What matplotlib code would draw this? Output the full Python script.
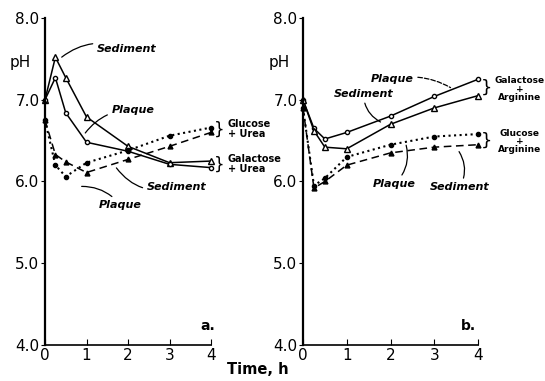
import matplotlib
matplotlib.use("Agg")
import matplotlib.pyplot as plt

plt.rcParams['font.family'] = ['DejaVu Sans']

# ---- data ----
time_a = [0, 0.25, 0.5, 1, 2, 3, 4]
a_gal_sediment = [7.0, 7.52, 7.27, 6.79, 6.43, 6.23, 6.25]
a_gal_plaque = [7.0, 7.27, 6.84, 6.48, 6.37, 6.21, 6.17]
a_glu_plaque = [6.75, 6.20, 6.06, 6.23, 6.38, 6.56, 6.66]
a_glu_sediment = [6.75, 6.33, 6.24, 6.11, 6.27, 6.43, 6.60]

time_b = [0, 0.25, 0.5, 1, 2, 3, 4]
b_gal_plaque = [7.0, 6.65, 6.52, 6.60, 6.80, 7.04, 7.25]
b_gal_sediment = [7.0, 6.62, 6.42, 6.40, 6.70, 6.90, 7.05]
b_glu_plaque = [6.9, 5.95, 6.04, 6.30, 6.45, 6.55, 6.58]
b_glu_sediment = [6.9, 5.92, 6.00, 6.20, 6.35, 6.42, 6.45]

yticks = [4.0, 5.0, 6.0, 7.0, 8.0]
xticks = [0, 1, 2, 3, 4]

fig = plt.figure(figsize=(5.45, 3.81), dpi=100)
axa = fig.add_axes([45/545, 36/381, 166/545, 327/381])
axb = fig.add_axes([303/545, 36/381, 175/545, 327/381])

lw = 1.1
ms = 3.5
tk = dict(fontsize=8, fontweight='bold', style='italic')
bk = dict(fontsize=7, fontweight='bold', clip_on=False)

def style(ax):
    ax.set_xlim(0, 4)
    ax.set_ylim(4, 8)
    ax.spines['top'].set_visible(False)
    ax.spines['right'].set_visible(False)
    ax.spines['left'].set_linewidth(1.6)
    ax.spines['bottom'].set_linewidth(1.2)
    ax.set_yticks(yticks)
    ax.set_yticklabels([f"{v:.1f}" for v in yticks], fontsize=11)
    ax.set_xticks(xticks)
    ax.set_xticklabels([str(v) for v in xticks], fontsize=11)
    ax.tick_params(axis='y', direction='out', length=3, pad=1)
    ax.tick_params(axis='x', direction='in', length=4, pad=2)
    for spine in ax.spines.values():
        spine.set_clip_on(False)

# ---- panel a ----
ax = axa
style(ax)
ax.plot(time_a, a_gal_sediment, '-', color='black', lw=lw, marker='^', mfc='white', ms=ms+0.5, clip_on=False)
ax.plot(time_a, a_gal_plaque, '-', color='black', lw=lw, marker='o', mfc='white', ms=ms-0.5, clip_on=False)
ax.plot(time_a, a_glu_plaque, ':', color='black', lw=1.5, marker='o', mfc='black', ms=ms-0.5, clip_on=False)
ax.plot(time_a, a_glu_sediment, '--', color='black', lw=lw, marker='^', mfc='black', ms=ms, dashes=(5, 3), clip_on=False)

arr = dict(arrowstyle='-', color='black', lw=0.9)
ax.annotate('Sediment', xy=(0.35, 7.5), xytext=(1.25, 7.62), ha='left', va='center', **tk,
            arrowprops=dict(**arr, connectionstyle='arc3,rad=0.3', shrinkA=1, shrinkB=2))
ax.annotate('Plaque', xy=(0.95, 6.58), xytext=(1.6, 6.88), ha='left', va='center', **tk,
            arrowprops=dict(**arr, connectionstyle='arc3,rad=0.25', shrinkA=1, shrinkB=1))
ax.annotate('Sediment', xy=(1.7, 6.18), xytext=(2.45, 5.93), ha='left', va='center', **tk,
            arrowprops=dict(**arr, connectionstyle='arc3,rad=-0.35', shrinkA=1, shrinkB=1))
ax.annotate('Plaque', xy=(0.85, 5.94), xytext=(1.3, 5.71), ha='left', va='center', **tk,
            arrowprops=dict(**arr, connectionstyle='arc3,rad=0.25', shrinkA=1, shrinkB=1))
ax.text(4.08, 6.63, '}', fontsize=12, ha='left', va='center', clip_on=False)
ax.text(4.4, 6.64, 'Glucose\n+ Urea', ha='left', va='center', linespacing=1.0, **bk)
ax.text(4.08, 6.21, '}', fontsize=12, ha='left', va='center', clip_on=False)
ax.text(4.4, 6.21, 'Galactose\n+ Urea', ha='left', va='center', linespacing=1.0, **bk)
ax.text(3.75, 4.15, 'a.', fontsize=10, fontweight='bold', ha='left', va='bottom')
ax.text(-0.6, 7.45, 'pH', fontsize=11, ha='center', va='center', clip_on=False)

# ---- panel b ----
ax = axb
style(ax)
ax.plot(time_b, b_gal_plaque, '-', color='black', lw=lw, marker='o', mfc='white', ms=ms-0.5, clip_on=False)
ax.plot(time_b, b_gal_sediment, '-', color='black', lw=lw, marker='^', mfc='white', ms=ms+0.5, clip_on=False)
ax.plot(time_b, b_glu_plaque, ':', color='black', lw=1.5, marker='o', mfc='black', ms=ms-0.5, clip_on=False)
ax.plot(time_b, b_glu_sediment, '--', color='black', lw=lw, marker='^', mfc='black', ms=ms, dashes=(5, 3), clip_on=False)

ax.annotate('Plaque', xy=(3.4, 7.14), xytext=(1.55, 7.25), ha='left', va='center', **tk,
            arrowprops=dict(arrowstyle='-', color='black', lw=0.9, linestyle='--',
                            connectionstyle='arc3,rad=-0.2', shrinkA=1, shrinkB=1))
ax.annotate('Sediment', xy=(1.8, 6.72), xytext=(0.7, 7.07), ha='left', va='center', **tk,
            arrowprops=dict(**arr, connectionstyle='arc3,rad=0.3', shrinkA=1, shrinkB=1))
ax.annotate('Plaque', xy=(2.35, 6.46), xytext=(1.6, 5.97), ha='left', va='center', **tk,
            arrowprops=dict(**arr, connectionstyle='arc3,rad=0.3', shrinkA=1, shrinkB=1))
ax.annotate('Sediment', xy=(3.55, 6.38), xytext=(2.9, 5.93), ha='left', va='center', **tk,
            arrowprops=dict(**arr, connectionstyle='arc3,rad=0.3', shrinkA=1, shrinkB=1))
bk2 = dict(bk, fontsize=6.5)
ax.text(4.06, 7.15, '}', fontsize=13, ha='left', va='center', clip_on=False)
ax.text(4.96, 7.13, 'Galactose\n+\nArginine', ha='center', va='center', linespacing=0.9, **bk2)
ax.text(4.06, 6.5, '}', fontsize=13, ha='left', va='center', clip_on=False)
ax.text(4.96, 6.49, 'Glucose\n+\nArginine', ha='center', va='center', linespacing=0.9, **bk2)
ax.text(3.6, 4.15, 'b.', fontsize=10, fontweight='bold', ha='left', va='bottom')
ax.text(-0.55, 7.45, 'pH', fontsize=11, ha='center', va='center', clip_on=False)

fig.text(258/545, 1 - 370/381, 'Time, h', fontsize=10.5, fontweight='bold', ha='center', va='center')

fig.savefig('out.png', dpi=100)
